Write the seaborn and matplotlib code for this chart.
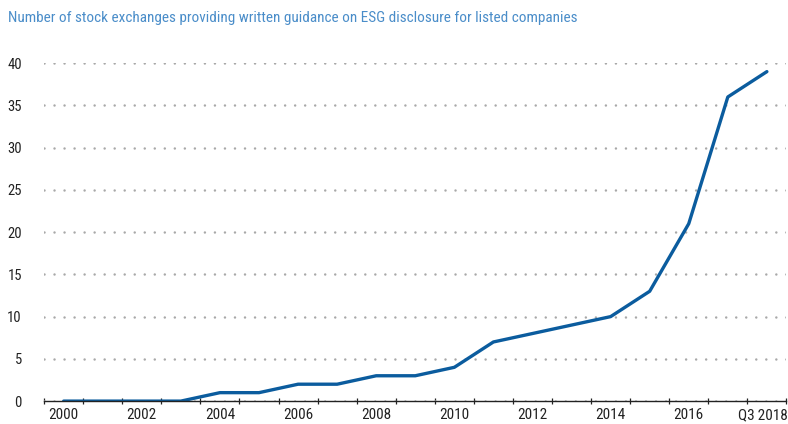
import numpy as np
import pandas as pd
import matplotlib.pyplot as plt
import matplotlib.transforms as mtransforms
import seaborn as sns
from matplotlib.ticker import FixedLocator

# Data
years = list(range(2000, 2019))
exchanges = [0, 0, 0, 0, 1, 1, 2, 2, 3, 3, 4, 7, 8, 9, 10, 13, 21, 36, 39]
tick_years = [2000, 2002, 2004, 2006, 2008, 2010, 2012, 2014, 2016, 2018]
tick_labels = ['2000', '2002', '2004', '2006', '2008', '2010', '2012', '2014', '2016', 'Q3\u20092018']

df = pd.DataFrame({'year': years, 'exchanges': exchanges})

sns.set_style('white')
plt.rcParams['font.family'] = ['Roboto Condensed', 'Liberation Sans', 'DejaVu Sans']

fig = plt.figure(figsize=(7.88, 4.24), dpi=100)
ax = fig.add_axes([0.056, 0.054, 0.942, 0.797])

sns.lineplot(data=df, x='year', y='exchanges', ax=ax, color='#0b5c9e', linewidth=2.4)

ax.set_xlim(1999.5, 2018.5)
ax.set_ylim(0, 40)
ax.set_yticks(range(0, 45, 5))
# round dots roughly 10 px apart
ax.yaxis.grid(True, linestyle=(0, (0.01, 4)), color='#a8a8a8', linewidth=1.8,
              dash_capstyle='round')
ax.set_axisbelow(True)

ax.set_xticks(tick_years)
ax.set_xticklabels(tick_labels)
ax.xaxis.set_minor_locator(FixedLocator(np.arange(1999.5, 2019, 1)))
ax.tick_params(axis='x', which='major', length=0, labelsize=11, colors='#222222', pad=5)
ax.tick_params(axis='x', which='minor', length=5, width=0.9, color='#222222', direction='inout', bottom=True)
ax.tick_params(axis='y', length=0, labelsize=10.5, colors='#222222', pad=16)

# nudge the last label left so it stays inside the figure
last = ax.get_xticklabels()[-1]
last.set_transform(last.get_transform() + mtransforms.ScaledTranslation(-3 / 72, 0, fig.dpi_scale_trans))

for side in ['top', 'right', 'left']:
    ax.spines[side].set_visible(False)
ax.spines['bottom'].set_color('#222222')
ax.spines['bottom'].set_linewidth(1.0)

ax.set_xlabel('')
ax.set_ylabel('')

fig.text(0.01, 0.957, 'Number of stock exchanges providing written guidance on ESG disclosure for listed companies',
         color='#4a8dc9', fontsize=11, ha='left', va='center')

fig.savefig('out.png', dpi=100)
